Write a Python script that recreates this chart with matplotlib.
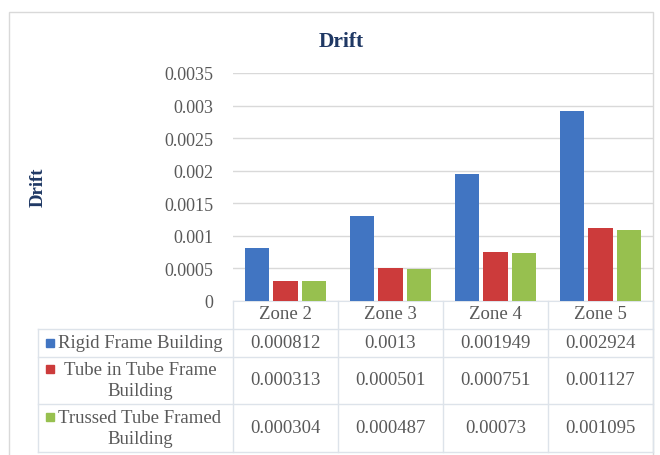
import matplotlib
matplotlib.use("Agg")
import matplotlib.pyplot as plt
import matplotlib.transforms as mtransforms
import numpy as np

zones = ["Zone 2", "Zone 3", "Zone 4", "Zone 5"]
series_names = ["Rigid Frame Building", "Tube in Tube Frame\nBuilding", "Trussed Tube Framed\nBuilding"]
rigid = [0.000812, 0.0013, 0.001949, 0.002924]
tube_in_tube = [0.000313, 0.000501, 0.000751, 0.001127]
trussed = [0.000304, 0.000487, 0.00073, 0.001095]
y_ticks = [0, 0.0005, 0.001, 0.0015, 0.002, 0.0025, 0.003, 0.0035]
y_tick_labels = ["0", "0.0005", "0.001", "0.0015", "0.002", "0.0025", "0.003", "0.0035"]

colors = ["#4175c2", "#cc3b3b", "#97c04f"]
W, H = 660, 456
serif = "Liberation Serif"
txt_col = "#595959"
line_col = "#dde3ea"


def fx(px):
    return px / W


def fy(py):
    return 1 - py / H


fig = plt.figure(figsize=(W / 100, H / 100), dpi=100)
fig.patch.set_facecolor("white")

# outer chart frame
fig.add_artist(plt.Rectangle((fx(9), fy(470)), fx(653) - fx(9), fy(13) - fy(470),
                             transform=fig.transFigure, fill=False, ec="#d9d9d9", lw=1))

ax = fig.add_axes([fx(233), fy(302), fx(653) - fx(233), fy(74) - fy(302)])
x = np.arange(len(zones))
offsets = [-0.275, 0, 0.275]
for vals, c, off in zip([rigid, tube_in_tube, trussed], colors, offsets):
    ax.bar(x + off, vals, width=0.23, color=c, zorder=3)

ax.set_xlim(-0.5, len(zones) - 0.5)
ax.set_ylim(0, 0.0035)
ax.set_yticks(y_ticks)
ax.set_yticklabels(y_tick_labels, fontfamily=serif, fontsize=13, color=txt_col)
ax.set_xticks([])
ax.tick_params(axis="y", length=0, pad=14)
ax.grid(axis="y", color="#d9d9d9", lw=1, zorder=0)
for s in ["top", "right", "left"]:
    ax.spines[s].set_visible(False)
ax.spines["bottom"].set_color(line_col)

fig.text(fx(341), fy(42), "Drift", ha="center", va="center", fontfamily=serif,
         fontweight="bold", fontsize=15.5, color="#1f3864")
fig.text(fx(38), fy(187), "Drift", ha="center", va="center", rotation=90, fontfamily=serif,
         fontweight="bold", fontsize=13.5, color="#1f3864")

# data table under the plot
tr = mtransforms.blended_transform_factory(ax.transData, fig.transFigure)
row_lines = [330, 358, 405, 453]
for py in row_lines:
    fig.add_artist(plt.Line2D([fx(38), fx(653)], [fy(py), fy(py)], transform=fig.transFigure,
                              color=line_col, lw=1))
for xb in np.arange(len(zones) + 1) - 0.5:
    fig.add_artist(plt.Line2D([xb, xb], [fy(302), fy(453)], transform=tr, color=line_col, lw=1))
fig.add_artist(plt.Line2D([fx(38), fx(38)], [fy(330), fy(453)], transform=fig.transFigure,
                          color=line_col, lw=1))

for i, z in enumerate(zones):
    fig.text(i, fy(315), z, transform=tr, ha="center", va="center", fontfamily=serif,
             fontsize=13.5, color=txt_col)

row_mid = [344, 381, 429]
first_line = [344, 370, 418]
for r, (name, vals, c) in enumerate(zip(series_names, [rigid, tube_in_tube, trussed], colors)):
    fig.text(fx(140), fy(row_mid[r]), name, ha="center", va="center", multialignment="center",
             fontfamily=serif, fontsize=13.5, color=txt_col, linespacing=1.3)
    fig.add_artist(plt.Rectangle((fx(46), fy(first_line[r] + 4)), fx(8), 8 / H,
                                 transform=fig.transFigure, color=c))
    for i, v in enumerate(vals):
        fig.text(i, fy(row_mid[r]), f"{v:g}", transform=tr, ha="center", va="center",
                 fontfamily=serif, fontsize=13.5, color=txt_col)

fig.savefig("out.png", dpi=100)
